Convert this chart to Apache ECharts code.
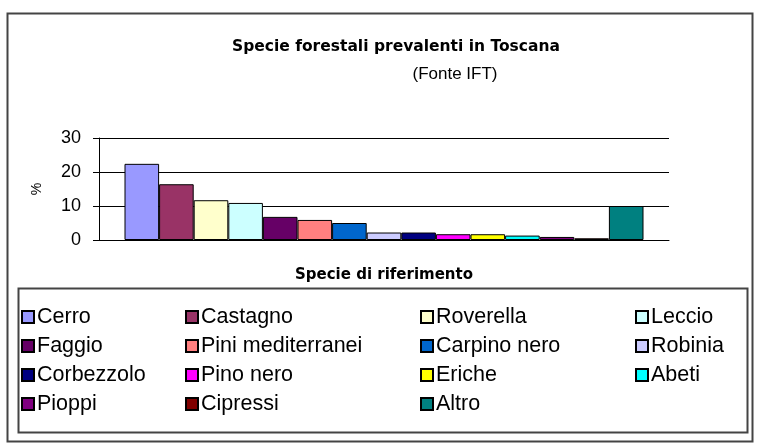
<!DOCTYPE html>
<html>
<head>
<meta charset="utf-8">
<script src="https://cdn.jsdelivr.net/npm/echarts@6/dist/echarts.min.js"></script>
<style>
html,body{margin:0;padding:0;background:#fff;}
#chart{width:761px;height:448px;}
</style>
</head>
<body>
<div id="chart"></div>
<script>
var speciesNames = ["Cerro","Castagno","Roverella","Leccio","Faggio","Pini mediterranei","Carpino nero","Robinia","Corbezzolo","Pino nero","Eriche","Abeti","Pioppi","Cipressi","Altro"];
var speciesValues = [22.4, 16.4, 11.7, 10.9, 6.8, 5.9, 5.0, 2.2, 2.2, 1.7, 1.7, 1.3, 0.9, 0.5, 10.0];
var speciesColors = ["#9999FF","#993366","#FFFFCC","#CCFFFF","#660066","#FF8080","#0066CC","#CCCCFF","#000080","#FF00FF","#FFFF00","#00FFFF","#800080","#800000","#008080"];
var yTicks = [0, 10, 20, 30];
var legendColumns = [
  ["Cerro","Faggio","Corbezzolo","Pioppi"],
  ["Castagno","Pini mediterranei","Pino nero","Cipressi"],
  ["Roverella","Carpino nero","Eriche","Altro"],
  ["Leccio","Robinia","Abeti"]
];

var FONT = "'Liberation Sans', Arial, sans-serif";
var chart = echarts.init(document.getElementById('chart'), null, {renderer:'canvas'});

var series = speciesNames.map(function(name, i){
  return {
    name: name,
    type: 'bar',
    data: [speciesValues[i]],
    barWidth: 34.6,
    barGap: '0%',
    itemStyle: {color: speciesColors[i], borderColor: '#000', borderWidth: 1},
    emphasis: {disabled: true},
    animation: false
  };
});

var legendLeft = [21, 185, 420, 635];
var legends = legendColumns.map(function(col, c){
  return {
    data: col,
    orient: 'vertical',
    left: legendLeft[c],
    top: 306,
    padding: 0,
    itemWidth: 12,
    itemHeight: 12,
    itemGap: 7,
    icon: 'rect',
    selectedMode: false,
    textStyle: {fontFamily: FONT, fontSize: 21.5, color: '#000', padding: [0,0,0,-2]}
  };
});

chart.setOption({
  backgroundColor: '#fff',
  animation: false,
  title: [
    {text: 'Specie forestali prevalenti in Toscana', left: 391, top: 34, textAlign: 'center',
     textStyle: {fontFamily: "'DejaVu Sans', Verdana, sans-serif", fontWeight: 'bold', fontSize: 15.5, color: '#000'}},
    {text: '(Fonte IFT)', left: 450, top: 61, textAlign: 'center',
     textStyle: {fontFamily: FONT, fontWeight: 'normal', fontSize: 17, color: '#000'}}
  ],
  legend: legends,
  grid: {left: 99, right: 92, top: 138, bottom: 208, containLabel: false, outerBoundsMode: 'none'},
  xAxis: {
    type: 'category',
    data: [''],
    name: 'Specie di riferimento',
    nameLocation: 'middle',
    nameGap: 28,
    nameTextStyle: {fontFamily: "'DejaVu Sans', Verdana, sans-serif", fontWeight: 'bold', fontSize: 15, color: '#000'},
    axisLine: {show: true, lineStyle: {color: '#000', width: 1}},
    axisTick: {show: false},
    axisLabel: {show: false}
  },
  yAxis: {
    type: 'value',
    min: yTicks[0],
    max: yTicks[yTicks.length-1],
    interval: 10,
    name: '%',
    nameLocation: 'middle',
    nameRotate: 90,
    nameGap: 55,
    nameTextStyle: {fontFamily: FONT, fontSize: 14, color: '#000'},
    axisLine: {show: true, lineStyle: {color: '#000', width: 1}},
    axisTick: {show: true, length: 6, inside: false, lineStyle: {color: '#000'}},
    axisLabel: {fontFamily: FONT, fontSize: 18, color: '#000', margin: 18},
    splitLine: {show: true, lineStyle: {color: '#000', width: 1}}
  },
  series: series,
  graphic: [
    {type: 'rect', shape: {x: 7.5, y: 13.5, width: 745, height: 428}, style: {fill: 'none', stroke: '#444', lineWidth: 2}, silent: true, z: -1},
    {type: 'rect', shape: {x: 18.5, y: 288.5, width: 729, height: 144}, style: {fill: 'none', stroke: '#444', lineWidth: 2}, silent: true, z: -1}
  ]
});
</script>
</body>
</html>
